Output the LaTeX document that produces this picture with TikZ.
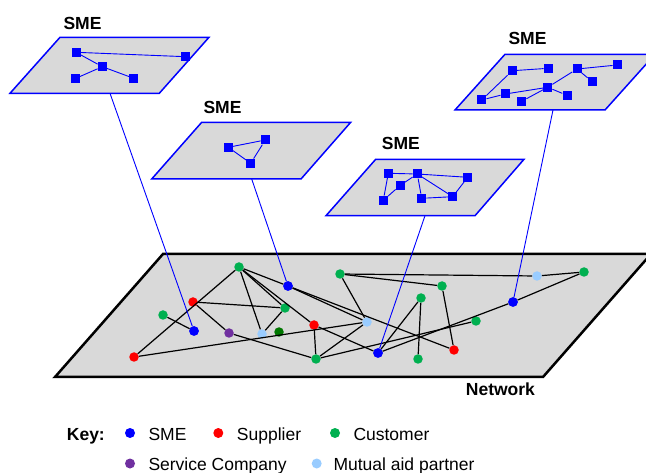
\documentclass[tikz,border=0pt]{standalone}
\usepackage{fontspec}
\setmainfont{Liberation Sans}
\definecolor{planegray}{RGB}{217,217,217}
\definecolor{smeblue}{RGB}{0,0,255}
\definecolor{supred}{RGB}{255,0,0}
\definecolor{custgreen}{RGB}{0,176,80}
\definecolor{darkgrn}{RGB}{0,120,0}
\definecolor{svcpurple}{RGB}{112,48,160}
\definecolor{mutblue}{RGB}{153,204,255}
\begin{document}
\begin{tikzpicture}[x=1pt,y=-1pt,
  plane/.style={draw=blue, fill=planegray, line width=1.5pt, line join=miter},
  netplane/.style={draw=black, fill=planegray, line width=2.5pt, line join=miter},
  sq/.style={rectangle, fill=blue, minimum size=9pt, inner sep=0pt},
  dot/.style={circle, minimum size=9.5pt, inner sep=0pt},
  sme/.style={dot, fill=smeblue},
  sup/.style={dot, fill=supred},
  cust/.style={dot, fill=custgreen},
  dkcust/.style={dot, fill=darkgrn},
  svc/.style={dot, fill=svcpurple},
  mut/.style={dot, fill=mutblue},
  sedge/.style={draw=blue, line width=0.9pt},
  nedge/.style={draw=black, line width=1.2pt},
  link/.style={draw=blue, line width=0.9pt},
  title/.style={anchor=base west, inner sep=0pt, font=\fontsize{17.5}{20}\selectfont\bfseries},
  keytext/.style={anchor=base west, inner sep=0pt, font=\fontsize{17.5}{20}\selectfont}
]
\clip (0,0) rectangle (646,473);

% ---------- network plane ----------
\draw[netplane] (55,377) -- (543,377) -- (651,254) -- (163,254) -- cycle;
\node[title] (netlbl) at (465.7,395.7) {Network};

% network nodes
\node[cust] (G1) at (239,267) {};
\node[sme]  (B1) at (288,286) {};
\node[cust] (G2) at (340,274) {};
\node[sup]  (R1) at (193,302) {};
\node[cust] (G3) at (285,308) {};
\node[cust] (G4) at (163,315) {};
\node[sme]  (B2) at (194,331) {};
\node[svc]  (P1) at (229,333) {};
\node[mut]  (L1) at (262,334) {};
\node[dkcust] (DG) at (279,332) {};
\node[sup]  (R2) at (314,325) {};
\node[sup]  (R3) at (134,357) {};
\node[cust] (G5) at (316,359) {};
\node[mut]  (L2) at (537,276) {};
\node[cust] (G6) at (584,272) {};
\node[cust] (G7) at (442,286) {};
\node[cust] (G8) at (421,298) {};
\node[sme]  (B3) at (513,302) {};
\node[mut]  (L3) at (367,322) {};
\node[cust] (G9) at (476,321) {};
\node[sup]  (R4) at (454,350) {};
\node[sme]  (B4) at (378,353) {};
\node[cust] (G10) at (418,359) {};

% network edges
\draw[nedge] (G1) -- (R3);
\draw[nedge] (G1) -- (L1);
\draw[nedge] (G1) -- (G3);
\draw[nedge] (G1) -- (R2);
\draw[nedge] (G1) -- (B1);
\draw[nedge] (B1) -- (L3);
\draw[nedge] (B1) -- (R4);
\draw[nedge] (R1) -- (G3);
\draw[nedge] (R1) -- (P1);
\draw[nedge] (G3) -- (L1);
\draw[nedge] (G4) -- (B2);
\draw[nedge] (P1) -- (G5);
\draw[nedge] (R3) -- (L3);
\draw[nedge] (R2) -- (G5);
\draw[nedge] (R2) -- (B4);
\draw[nedge] (G5) -- (L3);
\draw[nedge] (G5) -- (G9);
\draw[nedge] (G2) -- (L2);
\draw[nedge] (L2) -- (G6);
\draw[nedge] (G2) -- (G7);
\draw[nedge] (G2) -- (L3);
\draw[nedge] (G7) -- (R4);
\draw[nedge] (B4) -- (G8);
\draw[nedge] (G8) -- (G10);
\draw[nedge] (G6) -- (B3);
\draw[nedge] (B3) -- (B4);

% ---------- SME plane 1 ----------
\draw[plane] (10,93.3) -- (159.3,93.3) -- (209,37.3) -- (60,37.3) -- cycle;
\node[title] (t1) at (63.3,29.3) {SME};
\coordinate (l1) at (110,93.3);
\node[sq] (a1) at (76,52.3) {};
\node[sq] (a2) at (185.7,56.7) {};
\node[sq] (a3) at (102.3,66.7) {};
\node[sq] (a4) at (75,78.7) {};
\node[sq] (a5) at (133.7,78.3) {};
\draw[sedge] (a1) -- (a2);
\draw[sedge] (a1) -- (a3);
\draw[sedge] (a3) -- (a5);
\draw[sedge] (a3) -- (a4);

% ---------- SME plane 2 ----------
\draw[plane] (151.7,179) -- (301,179) -- (350.7,122.3) -- (201.7,122.3) -- cycle;
\node[title] (t2) at (203.3,114) {SME};
\coordinate (l2) at (251.7,179);
\node[sq] (b1) at (228.3,147.3) {};
\node[sq] (b2) at (265.3,140) {};
\node[sq] (b3) at (250.7,163.3) {};
\draw[sedge] (b1) -- (b2);
\draw[sedge] (b2) -- (b3);
\draw[sedge] (b1) -- (b3);

% ---------- SME plane 3 ----------
\draw[plane] (326,215.7) -- (475,215.7) -- (524,159.3) -- (375.7,159.3) -- cycle;
\node[title] (t3) at (381.7,150) {SME};
\coordinate (l3) at (425,215.7);
\node[sq] (c1) at (388.3,173.3) {};
\node[sq] (c2) at (417.3,174) {};
\node[sq] (c3) at (467.7,177.3) {};
\node[sq] (c4) at (400.3,185.3) {};
\node[sq] (c5) at (383.3,200.3) {};
\node[sq] (c6) at (421.7,198.3) {};
\node[sq] (c7) at (452.7,196.7) {};
\draw[sedge] (c1) -- (c2);
\draw[sedge] (c1) -- (c5);
\draw[sedge] (c5) -- (c4);
\draw[sedge] (c4) -- (c2);
\draw[sedge] (c2) -- (c3);
\draw[sedge] (c2) -- (c6);
\draw[sedge] (c2) -- (c7);
\draw[sedge] (c3) -- (c7);
\draw[sedge] (c6) -- (c7);

% ---------- SME plane 4 ----------
\draw[plane] (455,110) -- (605,110) -- (655,54.3) -- (505,54.3) -- cycle;
\node[title] (t4) at (508.3,45) {SME};
\coordinate (l4) at (553,110);
\node[sq] (d1) at (512.3,70.7) {};
\node[sq] (d2) at (548.3,68.3) {};
\node[sq] (d3) at (577,69) {};
\node[sq] (d4) at (617.3,65) {};
\node[sq] (d5) at (592.3,81.7) {};
\node[sq] (d6) at (547.7,87.3) {};
\node[sq] (d7) at (505.3,94) {};
\node[sq] (d8) at (567,95.3) {};
\node[sq] (d9) at (481.7,100) {};
\node[sq] (d10) at (521.7,101.3) {};
\draw[sedge] (d1) -- (d2);
\draw[sedge] (d9) -- (d1);
\draw[sedge] (d9) -- (d7);
\draw[sedge] (d7) -- (d6);
\draw[sedge] (d10) -- (d6);
\draw[sedge] (d6) -- (d3);
\draw[sedge] (d6) -- (d8);
\draw[sedge] (d3) -- (d4);
\draw[sedge] (d3) -- (d5);

% ---------- SME links ----------
\draw[link] (l1) -- (B2);
\draw[link] (l2) -- (B1);
\draw[link] (l3) -- (B4);
\draw[link] (l4) -- (B3);
% redraw linked nodes on top
\node[sme] (B1t) at (B1) {};
\node[sme] (B2t) at (B2) {};
\node[sme] (B3t) at (B3) {};
\node[sme] (B4t) at (B4) {};

% ---------- key ----------
\node[title] (key) at (66.7,440) {Key:};
\node[sme, minimum size=10pt] (k1) at (130,433) {};
\node[keytext] (k1t) at (148.3,440) {SME};
\node[sup, minimum size=10pt] (k2) at (218.3,433) {};
\node[keytext] (k2t) at (236.7,440) {Supplier};
\node[cust, minimum size=10pt] (k3) at (335,433) {};
\node[keytext] (k3t) at (353.3,440) {Customer};
\node[svc, minimum size=10pt] (k4) at (130,463.5) {};
\node[keytext] (k4t) at (148.3,470) {Service Company};
\node[mut, minimum size=10pt] (k5) at (316.7,463.5) {};
\node[keytext] (k5t) at (333.3,470) {Mutual aid partner};
\end{tikzpicture}
\end{document}
